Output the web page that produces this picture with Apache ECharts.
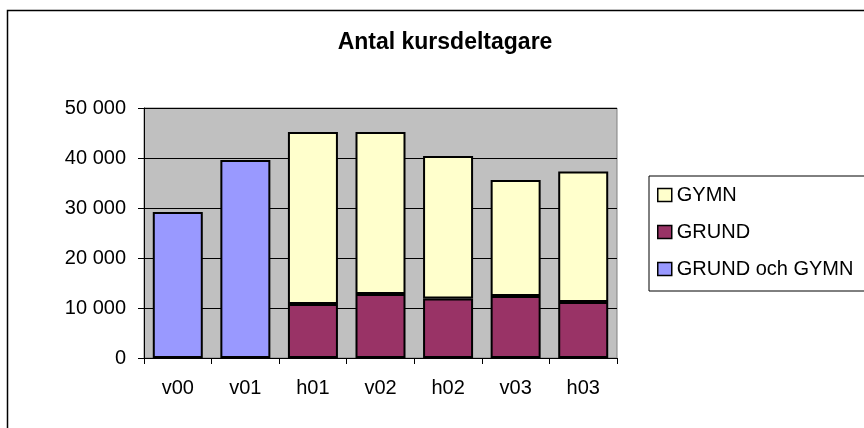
<!DOCTYPE html>
<html>
<head>
<meta charset="utf-8">
<script src="https://cdn.jsdelivr.net/npm/echarts@6/dist/echarts.min.js"></script>
<style>
html,body{margin:0;padding:0;background:#fff;}
#chart{width:864px;height:428px;}
</style>
</head>
<body>
<div id="chart"></div>
<script>
var categories = ['v00', 'v01', 'h01', 'v02', 'h02', 'v03', 'h03'];
var grundOchGymn = [29200, 39600, null, null, null, null, null];
var grund = [null, null, 10800, 12800, 11900, 12400, 11200];
var gymn = [null, null, 34400, 32400, 28500, 23200, 26100];
var yTicks = [0, 10000, 20000, 30000, 40000, 50000];

var FONT = '"Liberation Sans", Arial, sans-serif';
var chart = echarts.init(document.getElementById('chart'), null, {renderer: 'canvas'});
function fmt(v) {
  return String(v).replace(/\B(?=(\d{3})+(?!\d))/g, ' ');
}
function toData(arr) {
  return arr.map(function (v) {
    return v == null ? {value: '-', itemStyle: {borderWidth: 0, opacity: 0}} : v;
  });
}
var barBorder = {borderColor: '#000', borderWidth: 2};
chart.setOption({
  animation: false,
  backgroundColor: '#fff',
  graphic: [{
    type: 'rect',
    shape: {x: 7.5, y: 10.5, width: 900, height: 500},
    style: {fill: 'none', stroke: '#000', lineWidth: 1.5},
    silent: true,
    z: -1
  }],
  title: {
    text: 'Antal kursdeltagare',
    left: 440,
    textAlign: 'center',
    top: 26,
    textStyle: {fontFamily: FONT, fontSize: 23, fontWeight: 'bold', color: '#000'}
  },
  legend: {
    orient: 'vertical',
    left: 649,
    top: 176,
    data: ['GYMN', 'GRUND', 'GRUND och GYMN'],
    icon: 'rect',
    itemWidth: 14,
    itemHeight: 13,
    itemGap: 17,
    padding: [9, 40, 12, 8],
    borderColor: '#000',
    borderWidth: 1,
    backgroundColor: '#fff',
    itemStyle: {borderColor: '#000', borderWidth: 1.5},
    textStyle: {fontFamily: FONT, fontSize: 20, color: '#000'}
  },
  grid: {
    left: 144,
    top: 108,
    width: 473,
    height: 250,
    show: true,
    backgroundColor: '#C0C0C0',
    borderColor: '#808080',
    borderWidth: 1
  },
  xAxis: {
    type: 'category',
    data: categories,
    axisLine: {show: true, lineStyle: {color: '#000', width: 1}},
    axisTick: {show: true, length: 6, inside: false, alignWithLabel: false, lineStyle: {color: '#000'}},
    axisLabel: {fontFamily: FONT, fontSize: 20, color: '#000', margin: 20},
    splitLine: {show: false}
  },
  yAxis: {
    type: 'value',
    min: yTicks[0],
    max: yTicks[yTicks.length - 1],
    interval: yTicks[1] - yTicks[0],
    axisLine: {show: true, lineStyle: {color: '#000', width: 1}},
    axisTick: {show: true, length: 6, lineStyle: {color: '#000'}},
    axisLabel: {fontFamily: FONT, fontSize: 20, color: '#000', margin: 18, formatter: fmt},
    splitLine: {show: true, lineStyle: {color: '#000', width: 1}}
  },
  series: [
    {name: 'GRUND och GYMN', type: 'bar', stack: 'a', data: toData(grundOchGymn), barCategoryGap: '26%',
     itemStyle: Object.assign({color: '#9999FF'}, barBorder)},
    {name: 'GRUND', type: 'bar', stack: 'a', data: toData(grund),
     itemStyle: Object.assign({color: '#993366'}, barBorder)},
    {name: 'GYMN', type: 'bar', stack: 'a', data: toData(gymn),
     itemStyle: Object.assign({color: '#FFFFCC'}, barBorder)}
  ]
});
</script>
</body>
</html>
